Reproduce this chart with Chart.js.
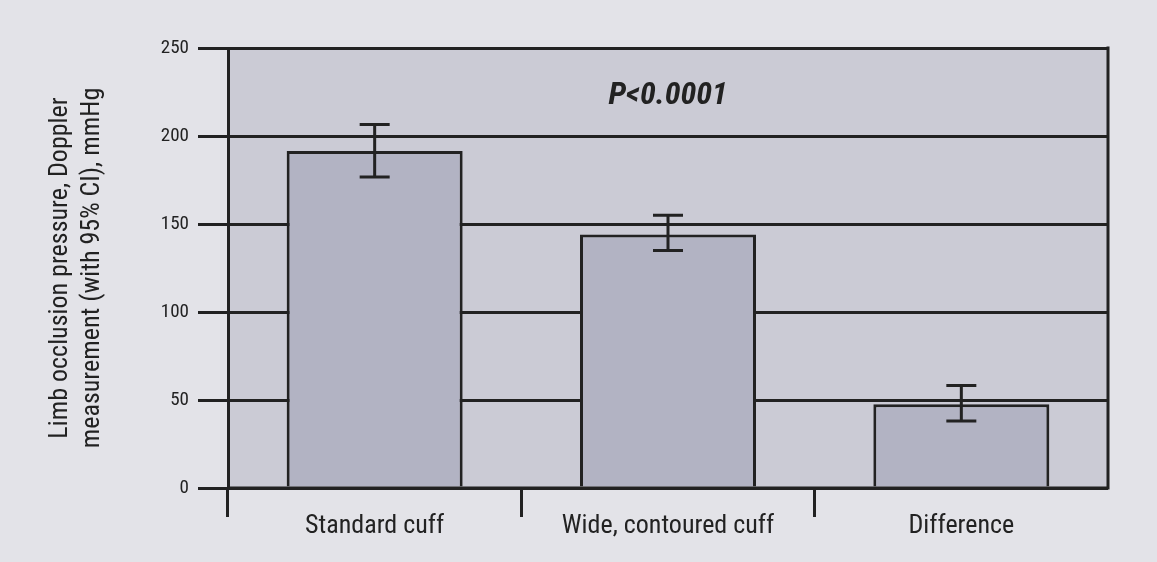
<!DOCTYPE html>
<html>
<head>
<meta charset="utf-8">
<script src="https://cdn.jsdelivr.net/npm/chart.js@4/dist/chart.umd.min.js"></script>
<style>
  html, body { margin: 0; padding: 0; background: #e3e3e8; }
  #wrap { width: 1157px; height: 562px; }
</style>
</head>
<body>
<div id="wrap"><canvas id="chart" width="1157" height="562"></canvas></div>
<script>
// Data
const categories = ['Standard cuff', 'Wide, contoured cuff', 'Difference'];
const means = [191.5, 144, 47.6];
const ciLow = [176.7, 135, 38.1];
const ciHigh = [206.5, 155, 58.2];
const yTicks = [0, 50, 100, 150, 200, 250];
const pLabel = 'P<0.0001';
const pLabelValue = 223;

const ink = '#222222';
const fontFamily = "'Liberation Sans Narrow', 'Roboto Condensed', 'DejaVu Sans Condensed', sans-serif";

// Plot background, right border and the zero line on top of the bars
const plotFrame = {
    id: 'plotFrame',
    beforeDraw(chart) {
        const { ctx, chartArea } = chart;
        ctx.save();
        ctx.fillStyle = '#cbcbd5';
        ctx.fillRect(chartArea.left, chartArea.top, chartArea.right - chartArea.left, chartArea.bottom - chartArea.top);
        ctx.restore();
    },
    afterDatasetsDraw(chart) {
        const { ctx, chartArea } = chart;
        const y0 = chart.scales.y.getPixelForValue(0);
        ctx.save();
        ctx.strokeStyle = ink;
        ctx.lineWidth = 3;
        ctx.beginPath();
        ctx.moveTo(chartArea.left, y0);
        ctx.lineTo(chartArea.right, y0);
        ctx.moveTo(chartArea.right, chartArea.top - 1.5);
        ctx.lineTo(chartArea.right, chartArea.bottom + 1.5);
        ctx.stroke();
        ctx.restore();
    }
};

// 95% CI whiskers
const errorBars = {
    id: 'errorBars',
    afterDatasetsDraw(chart) {
        const { ctx } = chart;
        const yScale = chart.scales.y;
        const meta = chart.getDatasetMeta(0);
        ctx.save();
        ctx.strokeStyle = ink;
        ctx.lineWidth = 3;
        meta.data.forEach((bar, i) => {
            const x = bar.x;
            const yLo = yScale.getPixelForValue(ciLow[i]);
            const yHi = yScale.getPixelForValue(ciHigh[i]);
            ctx.beginPath();
            ctx.moveTo(x, yLo);
            ctx.lineTo(x, yHi);
            ctx.moveTo(x - 15, yLo);
            ctx.lineTo(x + 15, yLo);
            ctx.moveTo(x - 15, yHi);
            ctx.lineTo(x + 15, yHi);
            ctx.stroke();
        });
        ctx.restore();
    }
};

// P value annotation
const pValueLabel = {
    id: 'pValueLabel',
    afterDraw(chart) {
        const { ctx, chartArea } = chart;
        const y = chart.scales.y.getPixelForValue(pLabelValue);
        ctx.save();
        ctx.fillStyle = ink;
        ctx.font = `italic bold 32px ${fontFamily}`;
        ctx.textAlign = 'center';
        ctx.textBaseline = 'middle';
        ctx.fillText(pLabel, (chartArea.left + chartArea.right) / 2, y);
        ctx.restore();
    }
};

const ctx = document.getElementById('chart').getContext('2d');
const chart = new Chart(ctx, {
    type: 'bar',
    data: {
        labels: categories,
        datasets: [{
            data: means,
            backgroundColor: '#b2b3c3',
            borderColor: ink,
            borderWidth: 3,
            borderSkipped: 'bottom',
            barPercentage: 0.6,
            categoryPercentage: 1.0
        }]
    },
    options: {
        responsive: false,
        animation: false,
        layout: {
            padding: { left: 0, right: 49, top: 48, bottom: 0 }
        },
        plugins: {
            legend: { display: false },
            tooltip: { enabled: false }
        },
        scales: {
            x: {
                offset: true,
                grid: {
                    offset: true,
                    drawOnChartArea: false,
                    drawTicks: true,
                    tickLength: 29,
                    lineWidth: 3,
                    color: (c) => c.type === 'tick' ? ink : 'rgba(0,0,0,0)'
                },
                border: { display: false },
                ticks: {
                    color: ink,
                    padding: -6,
                    font: { family: fontFamily, size: 26 }
                },
                afterFit(scale) { scale.height = 74; }
            },
            y: {
                min: 0,
                max: 250,
                afterBuildTicks(scale) {
                    scale.ticks = yTicks.map(v => ({ value: v }));
                },
                grid: {
                    color: ink,
                    lineWidth: 3,
                    tickLength: 30
                },
                border: { display: true, color: ink, width: 3 },
                ticks: {
                    color: ink,
                    padding: 9,
                    font: { family: fontFamily, size: 19 }
                },
                title: {
                    display: true,
                    text: ['Limb occlusion pressure, Doppler', 'measurement (with 95% CI), mmHg'],
                    color: ink,
                    padding: { top: 44, bottom: 0 },
                    font: { family: fontFamily, size: 26, lineHeight: 1.25 }
                },
                afterFit(scale) { scale.width = 228; }
            }
        }
    },
    plugins: [plotFrame, errorBars, pValueLabel]
});
</script>
</body>
</html>
